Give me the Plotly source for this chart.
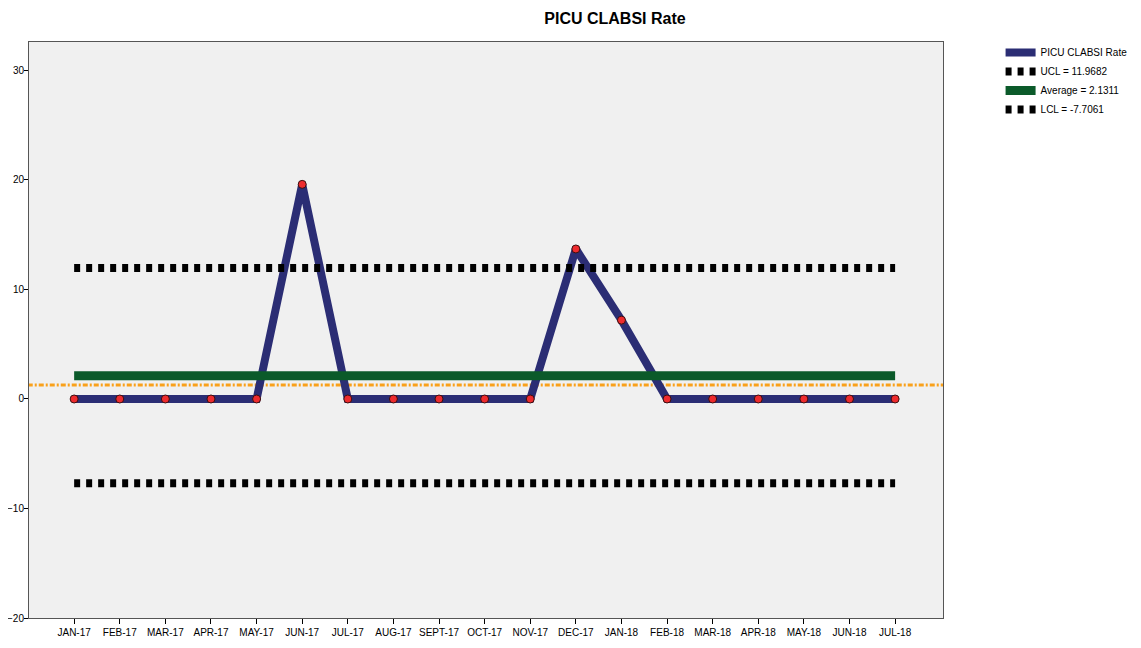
import plotly.graph_objects as go

months = ["JAN-17", "FEB-17", "MAR-17", "APR-17", "MAY-17", "JUN-17", "JUL-17", "AUG-17",
          "SEPT-17", "OCT-17", "NOV-17", "DEC-17", "JAN-18", "FEB-18", "MAR-18", "APR-18",
          "MAY-18", "JUN-18", "JUL-18"]
rate = [0, 0, 0, 0, 0, 19.6, 0, 0, 0, 0, 0, 13.7, 7.2, 0, 0, 0, 0, 0, 0]
ucl = 11.9682
avg = 2.1311
lcl = -7.7061
orange_ref = 1.28

xi = list(range(len(months)))
font_fam = "Liberation Sans Narrow, Arial Narrow, Liberation Sans, Arial, sans-serif"

W, H = 1133, 640

fig = go.Figure()
fig.add_trace(go.Scatter(
    x=[-1.5, 20], y=[orange_ref, orange_ref], mode="lines", showlegend=False,
    line=dict(color="#F9A11B", width=3, dash="5px,2px,2px,2px"), hoverinfo="skip"))
fig.add_trace(go.Scatter(
    x=xi, y=rate, mode="lines", name="PICU CLABSI Rate",
    line=dict(color="#2B2D74", width=8), showlegend=True))
fig.add_trace(go.Scatter(
    x=[xi[0], xi[-1]], y=[ucl, ucl], mode="lines", name=f"UCL = {ucl}",
    line=dict(color="#000000", width=8, dash="6px,6px")))
fig.add_trace(go.Scatter(
    x=[xi[0], xi[-1]], y=[avg, avg], mode="lines", name=f"Average = {avg}",
    line=dict(color="#0B5A2A", width=9)))
fig.add_trace(go.Scatter(
    x=[xi[0], xi[-1]], y=[lcl, lcl], mode="lines", name=f"LCL = {lcl}",
    line=dict(color="#000000", width=8, dash="6px,6px")))
fig.add_trace(go.Scatter(
    x=xi, y=rate, mode="markers", showlegend=False,
    marker=dict(color="#EE2B2E", size=8, line=dict(color="#3A1010", width=1))))

fig.update_layout(
    width=W, height=H,
    margin=dict(l=21, r=198, t=34, b=30, autoexpand=False),
    paper_bgcolor="white", plot_bgcolor="#F0F0F0",
    font=dict(family=font_fam, size=12, color="#000000"),
    title=dict(text="<b>PICU CLABSI Rate</b>", x=607/W, xanchor="center",
               y=1 - 10/H, yanchor="middle",
               font=dict(family=font_fam, size=16, color="#000000")),
    legend=dict(x=1.063, y=1.007, xanchor="left", yanchor="top",
                bgcolor="rgba(0,0,0,0)", font=dict(family=font_fam, size=10),
                itemwidth=30, tracegroupgap=0),
    showlegend=True,
)
fig.update_xaxes(
    range=[-0.99, 19.05], tickmode="array", tickvals=xi, ticktext=months,
    tickangle=0, automargin=False,
    showgrid=False, zeroline=False, showline=True, linecolor="#555555", linewidth=1,
    mirror=True, ticks="outside", ticklen=5, tickcolor="#000000",
    tickfont=dict(size=10, family=font_fam))
fig.update_yaxes(
    range=[-20, 32.6], tickvals=[-20, -10, 0, 10, 20, 30], automargin=False,
    showgrid=False, zeroline=False, showline=True, linecolor="#555555", linewidth=1,
    mirror=True, ticks="outside", ticklen=4, tickcolor="#000000",
    ticklabelstandoff=-2,
    tickfont=dict(size=10, family=font_fam))

fig.write_html("out.html")
